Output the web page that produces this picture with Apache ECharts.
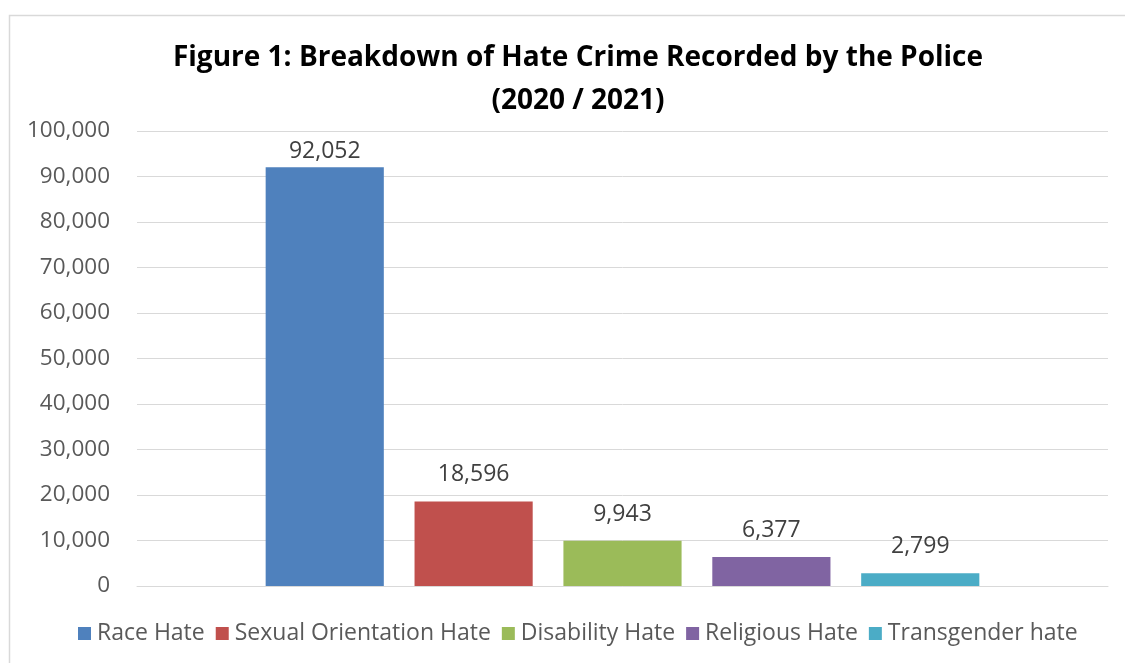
<!DOCTYPE html>
<html><head><meta charset="utf-8">
<script src="https://cdn.jsdelivr.net/npm/echarts@6/dist/echarts.min.js"></script>
<style>html,body{margin:0;padding:0;background:#fff}#c{width:1125px;height:663px}</style>
</head><body><div id="c"></div>
<script>
const categories = ['2020 / 2021'];
const seriesNames = ['Race Hate', 'Sexual Orientation Hate', 'Disability Hate', 'Religious Hate', 'Transgender hate'];
const seriesValues = [92052, 18596, 9943, 6377, 2799];
const colors = ['#4F81BD', '#C0504D', '#9BBB59', '#8064A2', '#4BACC6'];
const yTicks = [0, 10000, 20000, 30000, 40000, 50000, 60000, 70000, 80000, 90000, 100000];

const fmt = v => v.toLocaleString('en-US');
const chart = echarts.init(document.getElementById('c'));
chart.setOption({
  animation: false,
  title: {
    text: 'Figure 1: Breakdown of Hate Crime Recorded by the Police\n(2020 / 2021)',
    left: 573, top: 32, textAlign: 'center',
    textStyle: { fontFamily: 'Open Sans', fontWeight: 'bold', fontSize: 28, color: '#000', lineHeight: 43 }
  },
  graphic: [{ type: 'rect', shape: { x: 9.5, y: 15.5, width: 1200, height: 700 }, style: { fill: 'none', stroke: '#d9d9d9', lineWidth: 1.5 }, silent: true }],
  legend: {
    bottom: 18, left: 78, itemWidth: 13, itemHeight: 13, itemGap: 11, icon: 'rect', padding: 0,
    textStyle: { fontFamily: 'Open Sans', fontSize: 23, color: '#595959', padding: [0, 0, 0, 1] },
    data: seriesNames
  },
  grid: { left: 137, right: 17, top: 131, bottom: 77, containLabel: false },
  xAxis: { type: 'category', data: categories, axisLabel: { show: false }, axisTick: { show: false },
    axisLine: { lineStyle: { color: '#d9d9d9' } } },
  yAxis: { type: 'value', min: yTicks[0], max: yTicks[yTicks.length - 1], interval: 10000,
    axisLine: { show: false }, axisTick: { show: false },
    splitLine: { lineStyle: { color: '#d9d9d9' } },
    axisLabel: { formatter: v => fmt(v), fontFamily: 'Open Sans', fontSize: 22.5, color: '#595959', margin: 27 } },
  series: seriesNames.map((n, i) => ({
    name: n, type: 'bar', data: [seriesValues[i]],
    barGap: '26%', barCategoryGap: '26.5%',
    itemStyle: { color: colors[i] },
    label: { show: true, position: 'top', distance: i === 0 ? 4 : 15, formatter: p => fmt(p.value),
      fontFamily: 'Open Sans', fontSize: 23, color: '#404040' }
  }))
});
</script></body></html>
